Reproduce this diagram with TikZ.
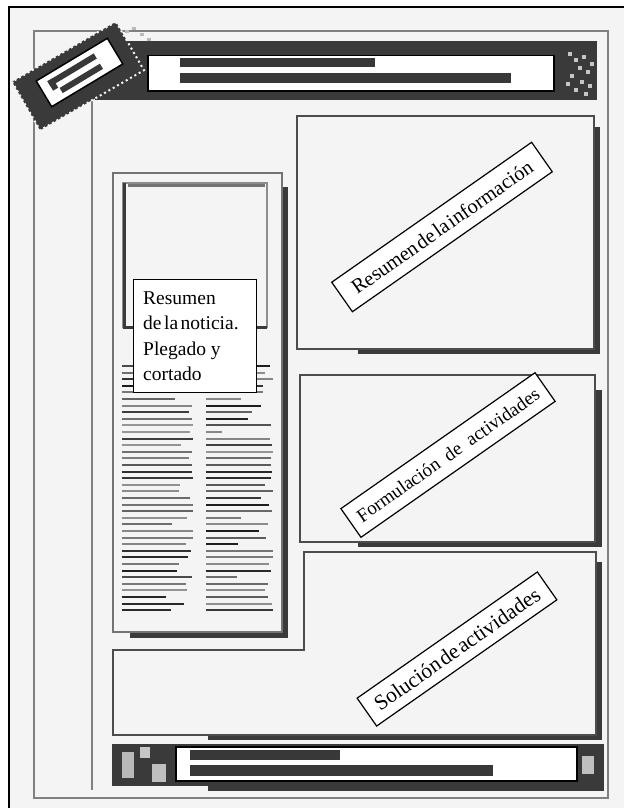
\documentclass[tikz,border=0pt]{standalone}
\usepackage{fontspec}
\setmainfont{Liberation Serif}
\definecolor{ink}{HTML}{3A3A3A}
\definecolor{paper}{HTML}{F4F4F4}
\begin{document}
\begin{tikzpicture}[x=1pt,y=-1pt,
  pageline/.style={draw=black!50,line width=1.6pt},
  boxline/.style={draw=black!70,line width=2pt},
  shade/.style={fill=ink},
  bar/.style={fill=black!78},
  plate/.style={draw=black,line width=1.5pt,fill=white},
  lbl/.style={draw=black,line width=1.2pt,fill=white,rotate=35,inner sep=0pt,anchor=center},
  lbltext/.style={anchor=base west,inner sep=0pt,font=\fontsize{19.5}{25}\selectfont}]
\useasboundingbox (0,0) rectangle (624,808);
\fill[white] (0,0) rectangle (624,808);
\fill[paper] (9,7) rectangle (624,808);
\draw[black,line width=1.5pt] (9,808) -- (9,7) -- (624,7);
% page frame
\draw[pageline] (34,31) rectangle (608,798);
\draw[pageline] (92,100) -- (92,790);
% header band
\fill[ink] (95,41) rectangle (597,100);
\foreach \px/\py in {568/52,574/58,582/55,578/66,586/70,570/74,580/80,588/84,574/88,584/92,590/62,566/82}
  \fill[gray!45] (\px,\py) rectangle ++(4,4);
\foreach \px/\py in {125/30,132/27,140/33,147/38,118/36}
  \fill[gray!55] (\px,\py) rectangle ++(4,3);
% logo
\node[fill=ink,rotate=30,minimum width=120pt,minimum height=56pt,draw=paper,line width=2pt,dash pattern=on 2pt off 3pt] (logostrip) at (78,76) {};
\node[plate,rotate=31,minimum width=83pt,minimum height=30pt] (logo) at (79.5,72.5) {};
\begin{scope}[shift={(79.5,72.5)},rotate=31]
  \fill[black!78] (-32,-9) rectangle (22,-3);
  \fill[black!78] (-25,3) rectangle (22,9);
  \fill[black!78] (-32,-9) rectangle (-26,2);
\end{scope}
% header plate
\node[plate,anchor=north west,minimum width=406pt,minimum height=35pt,inner sep=0pt] (head) at (147,55) {};
\fill[bar] (180,58) rectangle (375,67);
\fill[bar] (180,73) rectangle (511,83);
% left column
\fill[shade] (282,187) rectangle (288,638);
\fill[shade] (130,632) rectangle (288,638);
\draw[draw=black!55,line width=2pt] (113,173) rectangle (282,632);
\draw[draw=black!45,line width=1.5pt] (123,183) rectangle (267,327);
\draw[draw=black!55,line width=3pt] (128,185) -- (265,185);
\draw[draw=ink,line width=3pt] (124,183) -- (124,327) -- (267,327);
\pgfmathsetseed{7}
\foreach \i in {0,...,37}{
  \pgfmathsetmacro\yy{366+6.6*\i}
  \pgfmathsetmacro\ea{193-int(rnd*rnd*rnd*70)}
  \pgfmathsetmacro\eb{273-int(rnd*rnd*rnd*70)}
  \pgfmathsetmacro\sa{int(40+rnd*50)}
  \pgfmathsetmacro\sb{int(40+rnd*50)}
  \draw[line width=2pt,black!\sa] (122,\yy) -- (\ea,\yy);
  \draw[line width=2pt,black!\sb] (206,\yy) -- (\eb,\yy);
}
\node[plate,line width=1.2pt,anchor=north west,minimum width=123pt,minimum height=113pt,inner sep=0pt] (nbox) at (133,279) {};
\node[lbltext] (n1) at (143,304) {Resumen};
\node[lbltext] (n2) at (143,329.5) {\spaceskip=2.5pt de la noticia.};
\node[lbltext] (n3) at (143,355) {Plegado y};
\node[lbltext] (n4) at (143,380) {cortado};
% right boxes
\fill[shade] (594,127) rectangle (600,354);
\fill[shade] (358,349) rectangle (600,354);
\draw[boxline] (297,116) rectangle (594,349);
\fill[shade] (595,390) rectangle (602,547);
\fill[shade] (358,542) rectangle (602,547);
\draw[boxline] (300,375) rectangle (595,542);
\fill[shade] (596,562) rectangle (602,740);
\fill[shade] (208,735) rectangle (602,740);
\draw[boxline] (304,650) -- (304,552) -- (596,552) -- (596,735) -- (113,735) -- (113,650) -- cycle;
% rotated labels
\node[lbl,minimum width=244pt,minimum height=36pt,font=\fontsize{20.5}{24}\selectfont] (l1) at (442,227) {\spaceskip=2pt Resumen de la información};
\node[lbl,minimum width=237pt,minimum height=35pt,font=\fontsize{19}{23}\selectfont] (l2) at (448,455) {\spaceskip=9pt Formulación de actividades};
\node[lbl,minimum width=220pt,minimum height=34pt,font=\fontsize{21.5}{25}\selectfont] (l3) at (457,649) {\spaceskip=2pt Solución de actividades};
% footer
\fill[shade] (208,786) rectangle (604,791);
\fill[ink] (112,744) rectangle (604,786);
\fill[gray!55] (122,752) rectangle (134,778);
\fill[gray!45] (140,747) rectangle (150,758);
\fill[gray!50] (152,764) rectangle (166,782);
\fill[gray!50] (582,756) rectangle (594,774);
\node[plate,anchor=north west,minimum width=401pt,minimum height=34pt,inner sep=0pt] (foot) at (175,746) {};
\fill[bar] (190,750) rectangle (340,760);
\fill[bar] (190,765) rectangle (493,776);
\end{tikzpicture}
\end{document}
